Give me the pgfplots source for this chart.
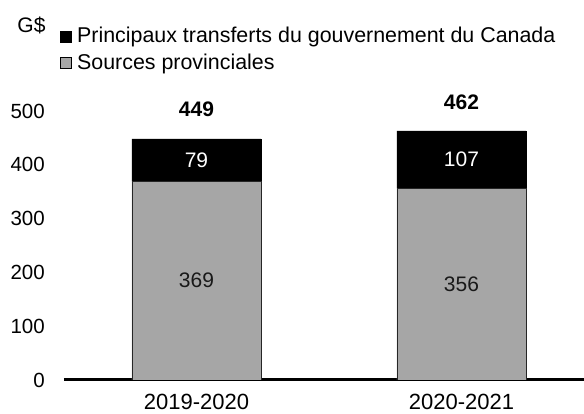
\documentclass[border=0pt]{standalone}
\usepackage{pgfplots}
\pgfplotsset{compat=1.18}
\usepackage{fontspec}
\setmainfont{Liberation Sans}
\definecolor{provgray}{HTML}{A6A6A6}
\begin{document}
\fontsize{21}{25}\selectfont
\begin{tikzpicture}
\path[use as bounding box] (0pt,0pt) rectangle (584pt,414pt);
\pgfplotsset{commonax/.style={
  at={(64pt,34pt)}, anchor=south west,
  scale only axis, width=520pt, height=269pt,
  xmin=-0.5, xmax=1.4623, ymin=0, ymax=500,
}}
\begin{axis}[commonax,
  ybar stacked, bar width=129pt,
  axis x line*=bottom, axis y line*=left,
  x axis line style={line width=3pt,-},
  y axis line style={draw=none},
  major tick length=0pt,
  xtick={0,1}, xticklabels={2019-2020,2020-2021},
  ytick={0,100,200,300,400,500},
  yticklabel style={font=\fontsize{20.5}{24}\selectfont, xshift=-12pt},
  xticklabel style={font=\fontsize{22}{26}\selectfont, yshift=-6.5pt},
  /pgf/number format/assume math mode=true,
  legend style={at={(-0.008,1.32)}, anchor=north west, draw=none, fill=none,
    font=\fontsize{21.4}{25}\selectfont, row sep=4pt, inner sep=0pt},
  legend cell align=left,
  reverse legend,
  legend image code/.code={\draw[#1,draw=black,line width=0.6pt] (0pt,-5.5pt) rectangle (11pt,5.5pt); \path (14.5pt,0pt);},
]
\addplot[fill=provgray, draw=black!85, line width=0.6pt] coordinates {(0,369) (1,356)};
\addlegendentry{Sources provinciales}
\addplot[fill=black, draw=black, line width=0.6pt] coordinates {(0,79) (1,107)};
\addlegendentry{Principaux transferts du gouvernement du Canada}
\end{axis}
\begin{axis}[commonax, hide axis]
\addplot[only marks, mark=none, nodes near coords, point meta=explicit symbolic,
  nodes near coords align=center,
  every node near coord/.append style={font=\fontsize{21}{25}\selectfont, text=black!90}]
  coordinates {(0,184.5) [369] (1,178) [356]};
\addplot[only marks, mark=none, nodes near coords, point meta=explicit symbolic,
  nodes near coords align=center,
  every node near coord/.append style={font=\fontsize{21}{25}\selectfont, text=white}]
  coordinates {(0,408.5) [79] (1,409.5) [107]};
\addplot[only marks, mark=none, nodes near coords, point meta=explicit symbolic,
  nodes near coords align=center,
  every node near coord/.append style={font=\fontsize{21}{25}\selectfont\bfseries, text=black, yshift=29.5pt}]
  coordinates {(0,449) [449] (1,462) [462]};
\end{axis}
\node[inner sep=0pt] at (31.5pt,389pt) {G\$};
\end{tikzpicture}
\end{document}
